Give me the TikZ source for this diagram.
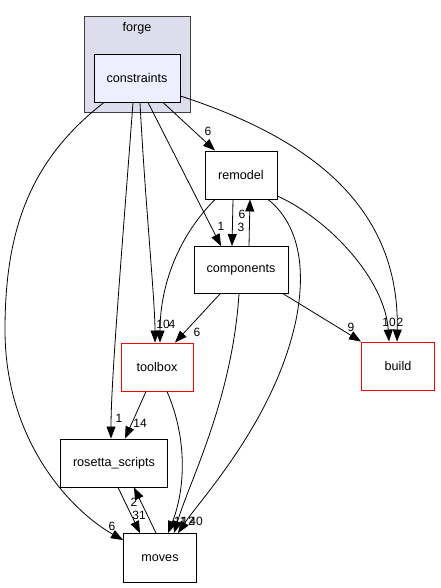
\documentclass[tikz,border=0pt]{standalone}
\usepackage{fontspec}
\setmainfont{Liberation Sans}
\usetikzlibrary{arrows.meta}
\begin{document}
\begin{tikzpicture}[x=1pt, y=-1pt,
    dir/.style={draw=black, fill=white, line width=0.9pt, minimum height=48pt, inner sep=0pt, font=\fontsize{12.6}{14}\selectfont},
    missing/.style={dir, draw=red},
    dep/.style={line width=0.8pt, -{Triangle[length=12pt, width=9pt]}},
    num/.style={inner sep=0pt, font=\fontsize{12}{13}\selectfont}]
    \useasboundingbox (0,0) rectangle (440,588);
    % Cluster: forge with constraints inside
    \node[draw=black!75, fill={rgb,255:red,221;green,221;blue,238}, line width=0.9pt, minimum width=106pt, minimum height=96pt] (forge) at (137,64) {};
    \node[num, font=\fontsize{12.6}{14}\selectfont] (forgelabel) at (137,28) {forge};
    \node[dir, fill={rgb,255:red,238;green,238;blue,255}, minimum width=86pt] (constraints) at (137,78) {constraints};
    % Other directories
    \node[dir, minimum width=72pt] (remodel) at (241,175) {remodel};
    \node[dir, minimum width=94pt, minimum height=47pt] (components) at (241,270) {components};
    \node[missing, minimum width=72pt] (toolbox) at (157,367) {toolbox};
    \node[missing, minimum width=73pt] (build) at (398,366) {build};
    \node[dir, minimum width=107pt] (rosetta) at (114,463) {rosetta\_scripts};
    \node[dir, minimum width=73pt, minimum height=49pt] (moves) at (160,558) {moves};
    % Dependencies of constraints
    \draw[dep] ([xshift=-33pt]constraints.south) .. controls (30,160) and (5,230) .. (5,330)
        .. controls (5,440) and (70,510) .. ([yshift=-7pt]moves.north west);
    \draw[dep] ([xshift=-4pt]constraints.south) .. controls (122,250) and (111,380) .. ([xshift=-3pt]rosetta.north);
    \draw[dep] ([xshift=3pt]constraints.south) .. controls (145,200) and (155,300) .. ([xshift=-2pt]toolbox.north);
    \draw[dep] ([xshift=11pt]constraints.south) -- ([xshift=-20pt]components.north);
    \draw[dep] ([xshift=26pt]constraints.south) -- ([xshift=-26pt]remodel.north);
    \draw[dep] ([yshift=-18pt]constraints.east) .. controls (300,135) and (400,200) .. ([xshift=-1pt]build.north);
    % Dependencies of remodel
    \draw[dep] ([xshift=-8pt]remodel.south) -- ([xshift=-9pt]components.north);
    \draw[dep] ([xshift=-26pt]remodel.south) .. controls (175,240) and (160,290) .. ([xshift=3pt]toolbox.north);
    \draw[dep] ([xshift=27pt]remodel.south) .. controls (300,225) and (306,270) .. (296,320)
        .. controls (275,420) and (200,500) .. ([xshift=18pt]moves.north);
    \draw[dep] ([yshift=-21pt]remodel.east) .. controls (330,220) and (385,280) .. ([xshift=-9pt]build.north);
    % Dependencies of components
    \draw[dep] ([xshift=8pt]components.north) -- ([xshift=9pt]remodel.south);
    \draw[dep] ([xshift=-21pt]components.south) -- ([xshift=18pt]toolbox.north);
    \draw[dep] ([xshift=-5pt]components.south east) -- (build.north west);
    \draw[dep] ([xshift=-2pt]components.south) .. controls (232,400) and (190,480) .. ([xshift=14pt]moves.north);
    % Dependencies of toolbox
    \draw[dep] ([xshift=-11pt]toolbox.south) -- ([xshift=11pt]rosetta.north);
    \draw[dep] ([xshift=10pt]toolbox.south) .. controls (188,440) and (185,490) .. ([xshift=8pt]moves.north);
    % rosetta_scripts <-> moves
    \draw[dep] ([xshift=4pt]rosetta.south) -- ([xshift=-20pt]moves.north);
    \draw[dep] ([xshift=-4pt]moves.north) -- ([xshift=20pt]rosetta.south);
    % Edge counts
    \node[num] (n1) at (112,526) {6};
    \node[num] (n2) at (119,418) {1};
    \node[num] (n3) at (163,324) {10};
    \node[num] (n4) at (172,324) {4};
    \node[num] (n5) at (221,226) {1};
    \node[num] (n6) at (208,131) {6};
    \node[num] (n7) at (389,322) {10};
    \node[num] (n8) at (400,322) {2};
    \node[num] (n9) at (242,214) {6};
    \node[num] (n10) at (241,227) {3};
    \node[num] (n11) at (197,332) {6};
    \node[num] (n12) at (351,327) {9};
    \node[num] (n13) at (140,423) {14};
    \node[num] (n14) at (139,515) {31};
    \node[num] (n15) at (134,502) {2};
    \node[num] (n16) at (180,521) {11};
    \node[num] (n17) at (188,521) {12};
    \node[num] (n18) at (196,521) {40};
\end{tikzpicture}
\end{document}
